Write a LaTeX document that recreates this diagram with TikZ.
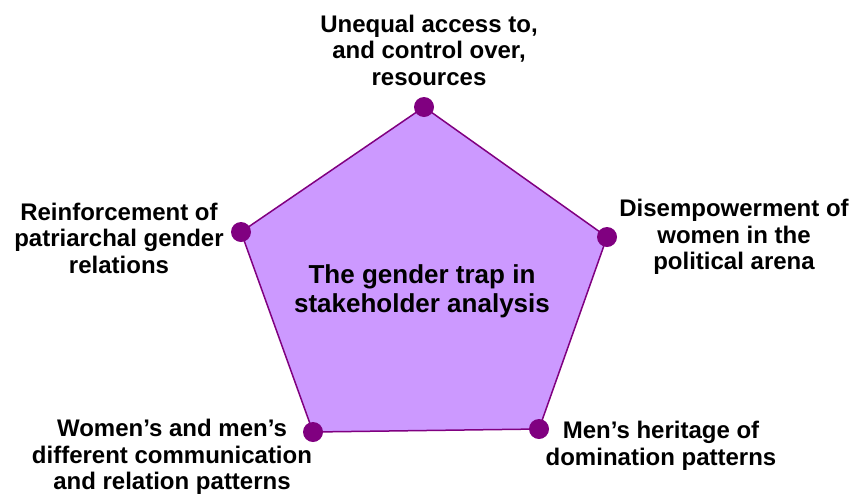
\documentclass[tikz,border=0pt]{standalone}
\usepackage{fontspec}
\setmainfont{Liberation Sans}
\definecolor{pfill}{HTML}{CC99FF}
\definecolor{pline}{HTML}{800080}
\begin{document}
\begin{tikzpicture}[x=1pt,y=-1pt,
  lbl/.style={font=\bfseries\fontsize{24}{26.5}\selectfont, align=center, inner sep=0pt},
  dot/.style={circle, fill=pline, minimum size=20pt, inner sep=0pt}]
\useasboundingbox (0,0) rectangle (851,496);
\coordinate (t) at (424,107);
\coordinate (r) at (607,237);
\coordinate (br) at (539,429);
\coordinate (bl) at (313,432);
\coordinate (l) at (241,232);
\draw[pline, line width=1.5pt, fill=pfill] (t) -- (r) -- (br) -- (bl) -- (l) -- cycle;
\foreach \p in {t,r,br,bl,l} \node[dot] (d\p) at (\p) {};
\node[lbl, font=\bfseries\fontsize{26}{29}\selectfont] (center) at (422,291) {The gender trap in\\stakeholder analysis};
\node[lbl] (lt) at (429,50) {Unequal access to,\\and control over,\\resources};
\node[lbl] (lr) at (734,237) {Disempowerment of\\women in the\\political arena};
\node[lbl] (ll) at (119,238) {Reinforcement of\\patriarchal gender\\relations};
\node[lbl] (lbl) at (172,457) {Women’s and men’s\\different communication\\and relation patterns};
\node[lbl] (lbr) at (661,446) {Men’s heritage of\\domination patterns};
\end{tikzpicture}
\end{document}
